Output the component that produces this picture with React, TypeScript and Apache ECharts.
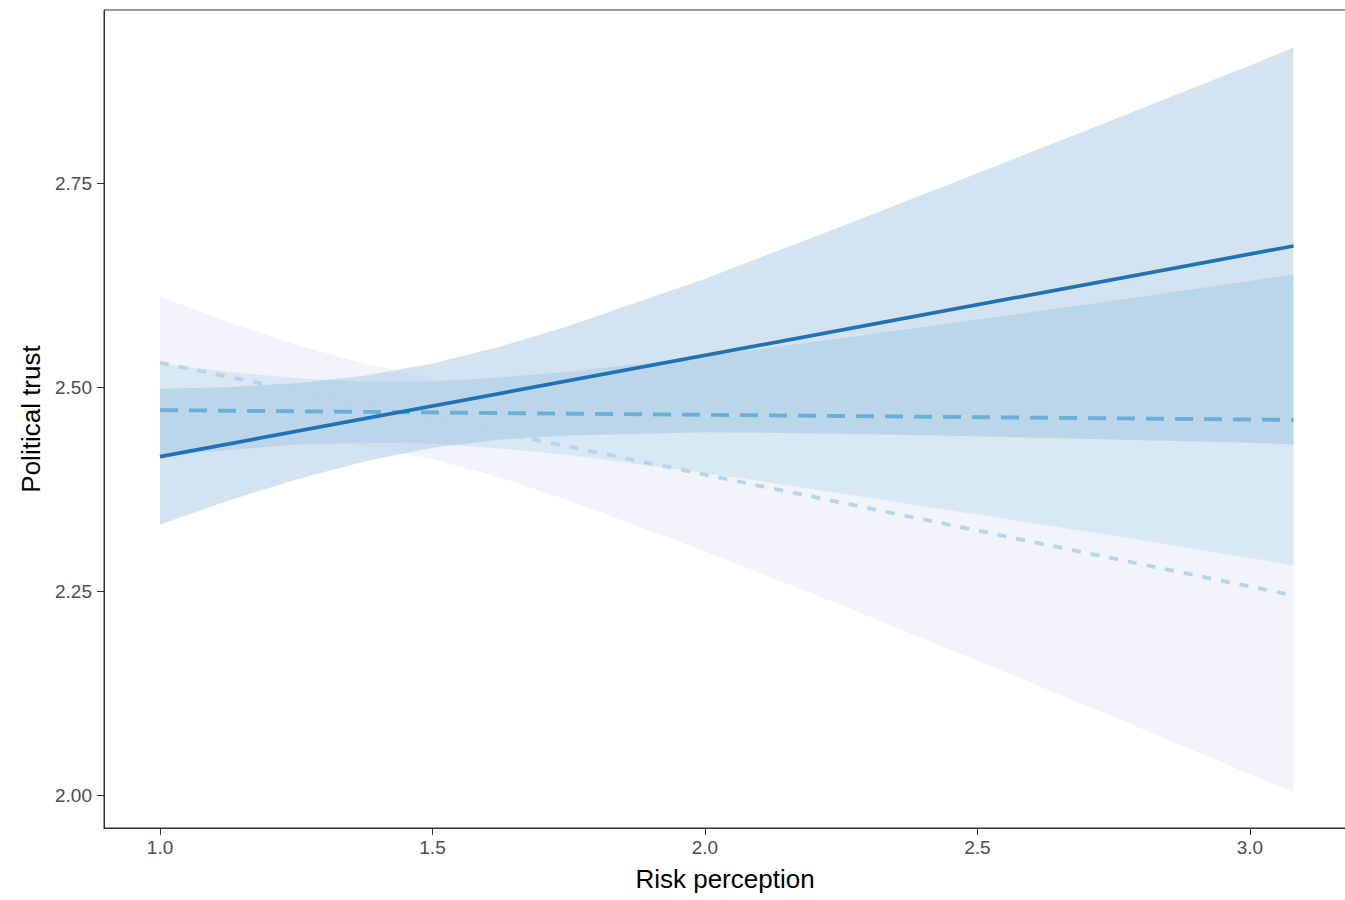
import React, { useEffect, useRef } from "react";
import * as echarts from "echarts";

// Risk perception sample positions (x) for the confidence ribbons
const riskX = [1.0, 1.125, 1.25, 1.375, 1.5, 1.625, 1.75, 2.0, 2.25, 2.5, 2.75, 3.0, 3.08];

// Solid group ribbon
const solidLower = [2.332, 2.361, 2.387, 2.409, 2.426, 2.436, 2.441, 2.445, 2.443, 2.440, 2.436, 2.432, 2.430];
const solidUpper = [2.498, 2.500, 2.505, 2.514, 2.529, 2.550, 2.575, 2.633, 2.697, 2.762, 2.828, 2.894, 2.916];

// Dashed group ribbon
const dashedLower = [2.415, 2.423, 2.430, 2.432, 2.431, 2.425, 2.417, 2.395, 2.370, 2.344, 2.318, 2.291, 2.282];
const dashedUpper = [2.529, 2.519, 2.511, 2.507, 2.507, 2.512, 2.519, 2.538, 2.560, 2.583, 2.606, 2.630, 2.638];

// Dotted group ribbon
const dottedLower = [2.449, 2.445, 2.439, 2.428, 2.412, 2.389, 2.361, 2.299, 2.233, 2.165, 2.096, 2.026, 2.004];
const dottedUpper = [2.611, 2.580, 2.552, 2.529, 2.511, 2.500, 2.493, 2.487, 2.485, 2.484, 2.485, 2.486, 2.486];

// Fitted lines (endpoints)
const lineX = [1.0, 3.08];
const solidLine = [2.415, 2.673];
const dashedLine = [2.472, 2.460];
const dottedLine = [2.530, 2.245];

// Ticks
const xTicks = [1.0, 1.5, 2.0, 2.5, 3.0];
const yTicks = [2.0, 2.25, 2.5, 2.75];

const FONT = "'Liberation Sans', Arial, sans-serif";

function ribbon(lower: number[], upper: number[], color: string) {
  const rows = riskX.map((x, i) => [x, lower[i], upper[i]]);
  return {
    type: "custom",
    data: rows,
    encode: { x: 0, y: [1, 2] },
    silent: true,
    clip: true,
    z: 1,
    renderItem: (params: any, api: any) => {
      if (params.dataIndex !== 0) return null;
      const top = rows.map((r) => api.coord([r[0], r[2]]));
      const bottom = rows.map((r) => api.coord([r[0], r[1]])).reverse();
      return {
        type: "polygon",
        shape: { points: top.concat(bottom) },
        style: { fill: color, stroke: "none" },
      };
    },
  };
}

function fitLine(values: number[], color: string, type: any, width: number) {
  return {
    type: "line",
    data: lineX.map((x, i) => [x, values[i]]),
    symbol: "none",
    lineStyle: { color, width, type, cap: "butt" },
    silent: true,
    z: 3,
  };
}

export default function App() {
  const ref = useRef<HTMLDivElement>(null);
  useEffect(() => {
    if (!ref.current) return;
    const chart = echarts.init(ref.current, null, { renderer: "svg" });
    chart.setOption({
      animation: false,
      backgroundColor: "#ffffff",
      textStyle: { fontFamily: FONT },
      grid: {
        left: 104,
        right: -1,
        top: 10,
        bottom: 72,
        show: true,
        borderColor: "#333333",
        borderWidth: 1,
        backgroundColor: "transparent",
        outerBoundsMode: "none",
      },
      xAxis: {
        type: "value",
        min: 0.8972,
        max: 3.1763,
        name: "Risk perception",
        nameLocation: "middle",
        nameGap: 38,
        nameTextStyle: { fontSize: 26, color: "#000000", fontFamily: FONT },
        splitLine: { show: false },
        axisLine: { show: true, onZero: false, lineStyle: { color: "#333333", width: 1 } },
        axisTick: { show: true, length: 7, lineStyle: { color: "#333333" }, customValues: xTicks },
        axisLabel: {
          customValues: xTicks,
          formatter: (v: number) => v.toFixed(1),
          fontSize: 19,
          color: "#4d4d4d",
          margin: 10,
          fontFamily: FONT,
        },
      },
      yAxis: {
        type: "value",
        min: 1.9602,
        max: 2.962,
        name: "Political trust",
        nameLocation: "middle",
        nameGap: 58,
        nameRotate: 90,
        nameTextStyle: { fontSize: 26, color: "#000000", fontFamily: FONT },
        splitLine: { show: false },
        axisLine: { show: true, onZero: false, lineStyle: { color: "#333333", width: 1 } },
        axisTick: { show: true, length: 7, lineStyle: { color: "#333333" }, customValues: yTicks },
        axisLabel: {
          customValues: yTicks,
          formatter: (v: number) => v.toFixed(2),
          fontSize: 19,
          color: "#4d4d4d",
          margin: 12,
          fontFamily: FONT,
        },
      },
      series: [
        ribbon(dashedLower, dashedUpper, "rgba(107,174,214,0.2)"),
        ribbon(solidLower, solidUpper, "rgba(33,113,181,0.2)"),
        ribbon(dottedLower, dottedUpper, "rgba(190,214,234,0.24)"),
        fitLine(dottedLine, "#b8d4e9", [9, 10], 3.8),
        fitLine(dashedLine, "#6baed6", [18, 11], 3.9),
        fitLine(solidLine, "#2171b5", "solid", 3.7),
      ],
    });
    return () => chart.dispose();
  }, []);
  return (
    <div
      ref={ref}
      style={{ position: "fixed", left: 0, top: 0, width: 1345, height: 900, background: "#fff" }}
    />
  );
}
